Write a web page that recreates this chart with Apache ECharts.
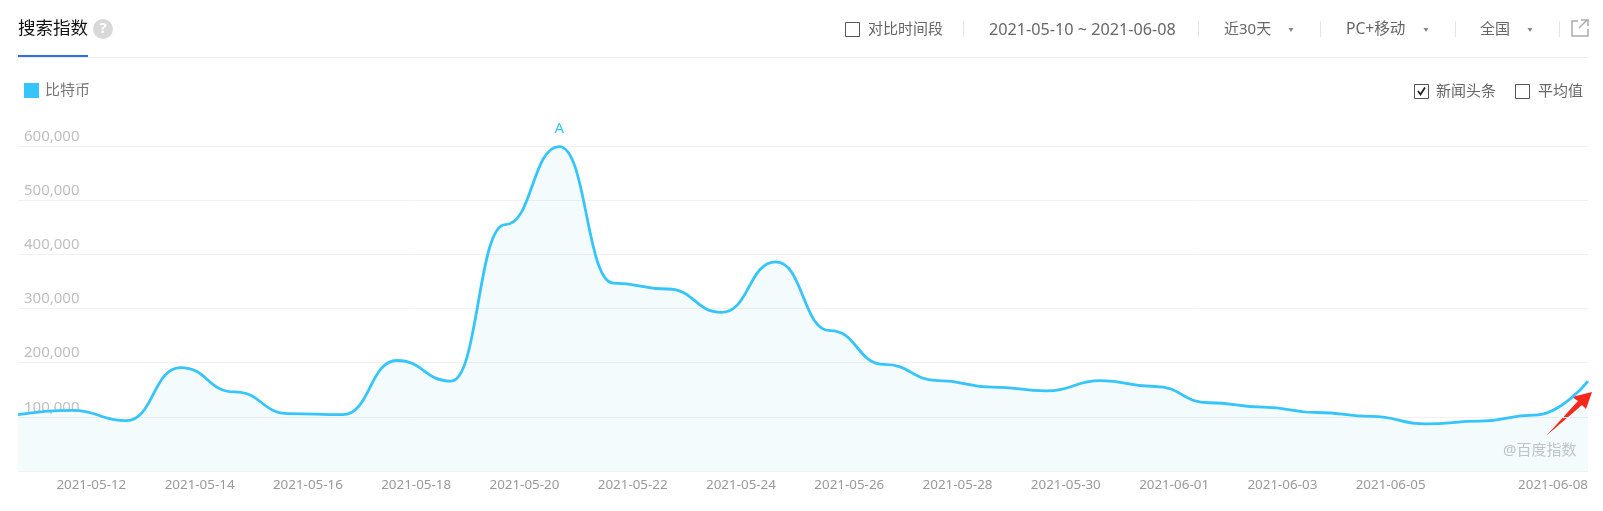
<!DOCTYPE html>
<html>
<head>
<meta charset="utf-8">
<style>
  html, body { margin: 0; padding: 0; background: #fff; }
  #chart { width: 1603px; height: 511px; }
</style>
<script src="https://cdn.jsdelivr.net/npm/echarts@6/dist/echarts.min.js"></script>
</head>
<body>
<div id="chart"></div>
<script>
const FONT = '"Noto Sans", "Noto Sans CJK SC", sans-serif';

const dates = [
  "2021-05-10", "2021-05-11", "2021-05-12", "2021-05-13", "2021-05-14", "2021-05-15",
  "2021-05-16", "2021-05-17", "2021-05-18", "2021-05-19", "2021-05-20", "2021-05-21",
  "2021-05-22", "2021-05-23", "2021-05-24", "2021-05-25", "2021-05-26", "2021-05-27",
  "2021-05-28", "2021-05-29", "2021-05-30", "2021-05-31", "2021-06-01", "2021-06-02",
  "2021-06-03", "2021-06-04", "2021-06-05", "2021-06-06", "2021-06-07", "2021-06-08",
];
const bitcoin = [
  104000, 112000, 93000, 191000, 146000, 106000,
  104000, 204000, 166000, 455000, 599000, 347000,
  336000, 293000, 386000, 259000, 197000, 167000,
  155000, 148000, 167000, 156000, 126000, 118000,
  108000, 101000, 87000, 92000, 103000, 166000,
];
const seriesName = "比特币";
const shownDates = dates.filter((d, i) => (i % 2 === 0 && i > 0 && i <= 26) || i === 29);

function label(text, x, y, opts = {}) {
  return {
    type: "text",
    x, y,
    style: {
      text,
      fill: opts.color || "#666",
      font: `${opts.size || 15}px ${FONT}`,
      textAlign: opts.align || "left",
      textVerticalAlign: "middle",
    },
  };
}
function box(x, y, w, h) {
  return {
    type: "rect",
    shape: { x: x + 0.5, y: y + 0.5, width: w, height: h },
    style: { fill: "#fff", stroke: "#555", lineWidth: 1 },
  };
}
function sep(x) {
  return {
    type: "line",
    shape: { x1: x + 0.5, y1: 21, x2: x + 0.5, y2: 37 },
    style: { stroke: "#e4e4e4", lineWidth: 1 },
  };
}
function caret(x) {
  return {
    type: "polygon",
    shape: { points: [[x - 2.5, 28], [x + 2.5, 28], [x, 32]] },
    style: { fill: "#888" },
  };
}

const chart = echarts.init(document.getElementById("chart"));
chart.setOption({
  animation: false,
  backgroundColor: "#fff",
  legend: {
    left: 19, top: 78,
    icon: "rect",
    itemWidth: 15, itemHeight: 15, itemGap: 7,
    data: [seriesName],
    textStyle: { color: "#777", fontSize: 15, fontFamily: FONT, padding: [0, 0, 4, 1] },
  },
  grid: { left: 18, right: 15, top: 146, bottom: 40 },
  xAxis: {
    type: "category",
    data: dates,
    boundaryGap: false,
    axisLine: { show: false },
    axisTick: { show: false },
    axisLabel: {
      interval: (i) => shownDates.includes(dates[i]),
      align: "right",
      color: "#999",
      fontSize: 13.4,
      fontFamily: FONT,
      margin: 7,
      showMaxLabel: true,
    },
  },
  yAxis: {
    type: "value",
    min: 0, max: 600000, interval: 100000,
    axisLine: { show: false },
    axisTick: { show: false },
    splitLine: { lineStyle: { color: "#f1f1f1", width: 1 } },
    axisLabel: {
      inside: true,
      margin: 6,
      verticalAlign: "bottom",
      padding: [0, 0, 2, 0],
      color: "#bfbfbf",
      fontSize: 15,
      fontFamily: FONT,
      formatter: (v) => (v === 0 ? "" : v.toLocaleString("en-US")),
    },
  },
  series: [{
    name: seriesName,
    type: "line",
    data: bitcoin,
    smooth: 0.5,
    smoothMonotone: "x",
    symbol: "none",
    itemStyle: { color: "#36c5fb" },
    lineStyle: { color: "#36c5fb", width: 2.8 },
    areaStyle: { color: "rgba(40,170,225,0.07)" },
    markPoint: {
      symbol: "circle",
      symbolSize: 0,
      data: [{ coord: [dates[10], bitcoin[10]] }],
      label: {
        show: true, position: "top", distance: 10,
        formatter: "A", color: "#36c5fb", fontSize: 15, fontFamily: FONT,
      },
    },
  }],
  graphic: [
    label("搜索指数", 18, 29, { size: 17.5, color: "#111" }),
    { type: "circle", shape: { cx: 103, cy: 29, r: 10 }, style: { fill: "#d8d8d8" } },
    { type: "text", x: 103, y: 29, style: { text: "?", fill: "#fff", font: `bold 15px ${FONT}`, textAlign: "center", textVerticalAlign: "middle" } },
    { type: "rect", shape: { x: 18, y: 57, width: 1571, height: 1 }, style: { fill: "#eeeeee" } },
    { type: "rect", shape: { x: 18, y: 55, width: 70, height: 2 }, style: { fill: "#2a6ff3" } },

    box(845, 22, 14, 14),
    label("对比时间段", 868, 30),
    sep(963),
    label("2021-05-10 ~ 2021-06-08", 989, 30, { size: 16.2 }),
    sep(1198),
    label("近30天", 1224, 30),
    caret(1291),
    sep(1320),
    label("PC+移动", 1346, 30, { size: 15.6 }),
    caret(1426),
    sep(1455),
    label("全国", 1480, 30),
    caret(1530),
    sep(1559),
    {
      type: "polyline",
      shape: { points: [[1578, 21], [1572, 21], [1572, 36], [1588, 36], [1588, 29]] },
      style: { stroke: "#aaa", lineWidth: 1.5, fill: null },
    },
    {
      type: "polyline",
      shape: { points: [[1579, 28], [1587, 20]] },
      style: { stroke: "#aaa", lineWidth: 1.5, fill: null },
    },
    {
      type: "polyline",
      shape: { points: [[1581, 20], [1588, 20], [1588, 26]] },
      style: { stroke: "#aaa", lineWidth: 1.5, fill: null },
    },

    box(1414, 84, 14, 14),
    {
      type: "polyline",
      shape: { points: [[1418, 91], [1420.5, 94.5], [1425, 87.5]] },
      style: { stroke: "#222", lineWidth: 1.8, fill: null },
    },
    label("新闻头条", 1436, 92),
    box(1515, 84, 14, 14),
    label("平均值", 1538, 92),

    label("@百度指数", 1503, 451, { color: "#c6c6c6" }),
    {
      type: "polygon",
      shape: {
        points: [[1546, 436], [1578, 401], [1572, 397], [1592, 392], [1586, 409], [1582, 405]],
      },
      style: { fill: "#ff2111" },
    },
  ],
});
</script>
</body>
</html>
